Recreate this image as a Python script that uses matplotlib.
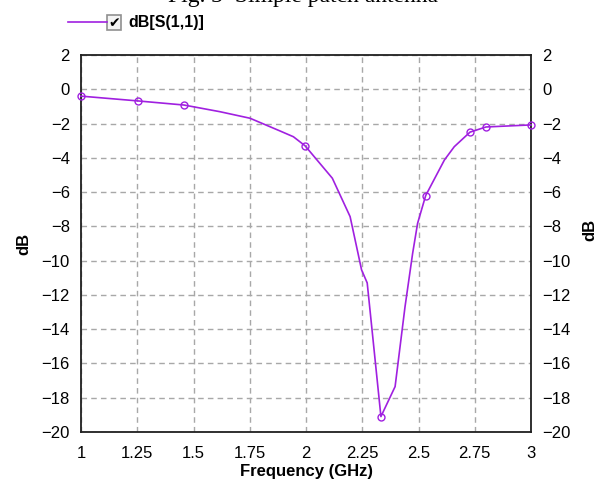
import matplotlib
matplotlib.use("Agg")
import matplotlib.pyplot as plt
from matplotlib.patches import Rectangle
from matplotlib.lines import Line2D

# S11 sweep of the patch (GHz, dB)
freq = [1.0, 1.253, 1.458, 1.618, 1.751, 1.884, 1.944, 1.996, 2.117, 2.196,
        2.247, 2.272, 2.292, 2.333, 2.396, 2.44, 2.474, 2.496, 2.532, 2.615,
        2.659, 2.729, 2.80, 3.0]
s11 = [-0.4, -0.68, -0.92, -1.31, -1.69, -2.43, -2.77, -3.3, -5.19, -7.43,
       -10.54, -11.3, -13.85, -19.1, -17.35, -12.7, -9.57, -7.82, -6.2, -4.13,
       -3.35, -2.5, -2.2, -2.08]
# sweep points that carry a marker
marker_idx = [0, 1, 2, 7, 13, 18, 21, 22, 23]

xticks = [1, 1.25, 1.5, 1.75, 2, 2.25, 2.5, 2.75, 3]
xtick_labels = ["1", "1.25", "1.5", "1.75", "2", "2.25", "2.5", "2.75", "3"]
yticks = list(range(-20, 3, 2))

plt.rcParams['font.family'] = ['Liberation Sans', 'DejaVu Sans']
col = '#a020e0'

fig = plt.figure(figsize=(6.06, 4.84), dpi=100)
ax = fig.add_axes([81 / 606, 1 - 432 / 484, 450 / 606, 377 / 484])

ax.plot(freq, s11, color=col, lw=1.2, marker='o', markevery=marker_idx,
        markersize=5, markerfacecolor='none', markeredgecolor=col, mew=1.0,
        clip_on=False, zorder=3)

ax.set_xlim(1, 3)
ax.set_ylim(-20, 2)
ax.set_xticks(xticks)
ax.set_xticklabels(xtick_labels)
ax.set_yticks(yticks)
ax.grid(True, color='#a8a8a8', ls=(0, (4, 3)), lw=1.0)
ax.tick_params(axis='both', labelsize=12, length=0, pad=8)
ax.tick_params(axis='x', pad=10)
ax.tick_params(axis='y', labelright=True, right=False)
for s in ax.spines.values():
    s.set_linewidth(1.3)
    s.set_color('#202020')

ax.set_xlabel('Frequency (GHz)', fontsize=12, fontweight='bold', labelpad=2)
ax.set_ylabel('dB', fontsize=12, fontweight='bold', labelpad=7)
fig.text(590 / 606, 1 - 230 / 484, 'dB', rotation=90, fontsize=12,
         fontweight='bold', ha='center', va='center')

# caption line at the top edge
fig.text(0.5, 1 - 2 / 484, 'Fig. 3  Simple patch antenna', fontsize=17,
         family='Liberation Serif', ha='center', va='baseline')

# legend entry with checkbox
fig.add_artist(Line2D([68 / 606, 107 / 606], [1 - 22 / 484, 1 - 22 / 484],
                      color=col, lw=1.2, transform=fig.transFigure))
fig.add_artist(Rectangle((107 / 606, 1 - 30 / 484), 14 / 606, 15 / 484,
                         transform=fig.transFigure, facecolor='#f4f4f4',
                         edgecolor='#909090', lw=1.2))
fig.text(114 / 606, 1 - 23 / 484, '\u2714', fontsize=10, family='DejaVu Sans',
         ha='center', va='center')
fig.text(128 / 606, 1 - 22 / 484, 'dB[S(1,1)]', fontsize=11.5, fontweight='bold',
         ha='left', va='center')

fig.savefig('out.png', dpi=100)
